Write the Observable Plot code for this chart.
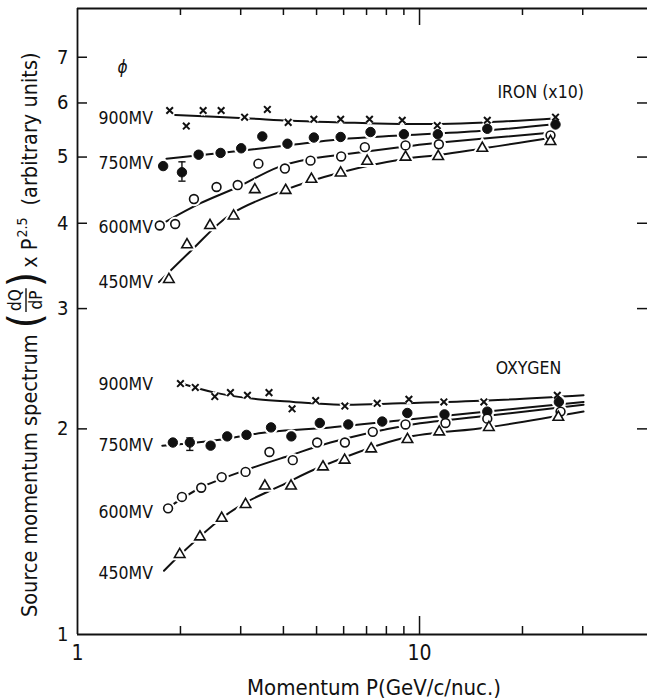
<!DOCTYPE html>
<html><head><meta charset="utf-8">
<script src="https://cdn.jsdelivr.net/npm/d3@7"></script>
<script src="https://cdn.jsdelivr.net/npm/@observablehq/plot@0.6"></script>
<style>
body{margin:0;background:#fff;}
#chart svg text{font-family:"DejaVu Sans Condensed","DejaVu Sans",sans-serif;}
</style></head><body><div id="chart"></div>
<script>
// ---- axes ----
const xDomain = [1, 46.4];
const yDomain = [1, 8.25];
const xMinorTicks = [2,3,4,5,6,7,8,9,20,30];
const xMajorTicks = [10];
const xTickLabels = [1, 10];
const yTicks = [2,3,4,5,6,7];
const yTickLabels = [1,2,3,4,5,6,7];
const xLabel = "Momentum P(GeV/c/nuc.)";
const yLabelParts = ["Source momentum spectrum", "dQ", "dP", "x P", "2.5", "(arbitrary units)"];

// ---- IRON (x10) data points ----
const fe900P = [1.86, 2.08, 2.33, 2.63, 3.08, 3.59, 4.13, 4.91, 5.88, 7.14, 8.90, 11.27, 15.78, 24.98];
const fe900V = [5.85, 5.55, 5.85, 5.85, 5.72, 5.87, 5.62, 5.68, 5.68, 5.68, 5.66, 5.56, 5.66, 5.72];
const fe750P = [1.78, 2.02, 2.26, 2.62, 3.01, 3.47, 4.11, 4.91, 5.88, 7.19, 9.00, 11.31, 15.78, 24.98];
const fe750V = [4.85, 4.75, 5.04, 5.07, 5.15, 5.36, 5.23, 5.34, 5.35, 5.44, 5.40, 5.40, 5.50, 5.58];
const fe600P = [1.74, 1.93, 2.19, 2.55, 2.94, 3.38, 4.04, 4.80, 5.90, 6.92, 9.10, 11.39, 24.15];
const fe600V = [3.97, 3.99, 4.34, 4.52, 4.55, 4.89, 4.81, 4.94, 5.01, 5.17, 5.20, 5.22, 5.38];
const fe450P = [1.85, 2.09, 2.44, 2.86, 3.30, 4.06, 4.83, 5.88, 7.03, 9.10, 11.34, 15.26, 24.15];
const fe450V = [3.31, 3.72, 3.97, 4.10, 4.48, 4.47, 4.64, 4.74, 4.93, 5.00, 5.01, 5.15, 5.27];
const feErrP = [2.02], feErrLo = [4.61], feErrHi = [4.92];

// ---- IRON fitted curves ----
const fe900FitP = [1.93, 3.08, 4.20, 5.88, 8.80, 11.52, 15.60, 25.33];
const fe900FitV = [5.76, 5.70, 5.65, 5.62, 5.59, 5.59, 5.62, 5.70];
const fe750FitP = [1.82, 2.62, 4.08, 5.88, 8.98, 15.70, 25.33];
const fe750FitV = [4.97, 5.07, 5.20, 5.31, 5.38, 5.47, 5.59];
const fe600FitP = [1.81, 2.29, 2.94, 3.85, 4.80, 5.91, 9.10, 11.52, 24.48];
const fe600FitV = [4.02, 4.28, 4.52, 4.83, 4.97, 5.04, 5.18, 5.25, 5.43];
const fe450FitP = [1.73, 2.14, 2.80, 3.92, 5.91, 9.10, 11.52, 24.48];
const fe450FitV = [3.28, 3.64, 4.12, 4.45, 4.75, 4.97, 5.04, 5.34];

// ---- OXYGEN data points ----
const o900P = [2.00, 2.21, 2.52, 2.80, 3.14, 3.63, 4.24, 4.97, 6.05, 7.52, 9.31, 11.78, 15.42, 25.28];
const o900V = [2.33, 2.30, 2.23, 2.26, 2.24, 2.26, 2.14, 2.20, 2.16, 2.18, 2.21, 2.19, 2.19, 2.24];
const o750P = [1.90, 2.13, 2.45, 2.74, 3.12, 3.68, 4.22, 5.11, 6.19, 7.78, 9.21, 11.83, 15.78, 25.55];
const o750V = [1.91, 1.91, 1.89, 1.95, 1.96, 2.01, 1.95, 2.04, 2.03, 2.05, 2.11, 2.10, 2.12, 2.19];
const o600P = [1.84, 2.02, 2.30, 2.64, 3.10, 3.64, 4.26, 5.02, 6.05, 7.30, 9.10, 11.91, 15.78, 25.84];
const o600V = [1.53, 1.59, 1.64, 1.70, 1.73, 1.85, 1.80, 1.91, 1.91, 1.98, 2.03, 2.04, 2.07, 2.12];
const o450P = [1.99, 2.28, 2.64, 3.10, 3.53, 4.21, 5.22, 6.04, 7.22, 9.22, 11.42, 15.95, 25.46];
const o450V = [1.31, 1.39, 1.48, 1.55, 1.65, 1.65, 1.76, 1.80, 1.87, 1.93, 1.98, 2.01, 2.08];
const oErrP = [2.13], oErrLo = [1.86], oErrHi = [1.94];

// ---- OXYGEN fitted curves ----
const o900FitP = [1.96, 2.52, 3.36, 4.28, 5.88, 8.80, 15.81, 30.17];
const o900FitV = [2.34, 2.26, 2.21, 2.19, 2.17, 2.18, 2.20, 2.24];
const o750FitP = [1.77, 2.45, 3.67, 5.49, 8.98, 15.81, 30.17];
const o750FitV = [1.89, 1.92, 1.98, 2.01, 2.06, 2.12, 2.19];
const o600FitP = [1.83, 2.29, 3.10, 4.20, 5.49, 8.98, 15.81, 30.17];
const o600FitV = [1.53, 1.64, 1.74, 1.83, 1.91, 2.02, 2.09, 2.17];
const o450FitP = [1.79, 2.00, 2.64, 3.10, 3.92, 5.14, 8.98, 15.81, 30.17];
const o450FitV = [1.24, 1.31, 1.48, 1.56, 1.65, 1.76, 1.94, 2.01, 2.12];

// ---- annotations ----
const mvLabels = ["900MV", "750MV", "600MV", "450MV"];
const mvLabelP = [1.152, 1.152, 1.152, 1.152];
const feLabelV = [5.69, 4.89, 3.94, 3.28];
const oLabelV = [2.32, 1.89, 1.51, 1.228];
const groupNames = ["IRON (x10)", "OXYGEN"];
const groupP = [16.9, 16.7];
const groupV = [6.22, 2.45];
const phiLabel = ["ϕ"];
const phiP = [1.354], phiV = [6.76];

// ---- helpers ----
const ink = "#111";
const pts = (P, V) => P.map((p, i) => ({p, v: V[i]}));
const capSymbol = {draw(ctx, size) { const w = 3.6; ctx.moveTo(-w, 0); ctx.lineTo(w, 0); }};
const styles = {
  "900MV": {symbol: "times", r: 3.1, fill: "none", stroke: ink, strokeWidth: 2},
  "750MV": {symbol: "circle", r: 4.7, fill: ink, stroke: ink, strokeWidth: 1},
  "600MV": {symbol: "circle", r: 4.4, fill: "white", stroke: ink, strokeWidth: 1.6},
  "450MV": {symbol: "triangle", r: 3.9, fill: "white", stroke: ink, strokeWidth: 1.6}
};
const series = [
  ["900MV", fe900P, fe900V, fe900FitP, fe900FitV],
  ["750MV", fe750P, fe750V, fe750FitP, fe750FitV],
  ["600MV", fe600P, fe600V, fe600FitP, fe600FitV],
  ["450MV", fe450P, fe450V, fe450FitP, fe450FitV],
  ["900MV", o900P, o900V, o900FitP, o900FitV],
  ["750MV", o750P, o750V, o750FitP, o750FitV],
  ["600MV", o600P, o600V, o600FitP, o600FitV],
  ["450MV", o450P, o450V, o450FitP, o450FitV]
];
const errs = [...pts(feErrP, feErrLo).map((d, i) => ({p: d.p, lo: d.v, hi: feErrHi[i]})),
              ...pts(oErrP, oErrLo).map((d, i) => ({p: d.p, lo: d.v, hi: oErrHi[i]}))];

const plotH = 700 - 8 - 66, plotW = 647 - 77;

const marks = [];
for (const [k, P, V, FP, FV] of series) {
  marks.push(Plot.line(pts(FP, FV), {x: "p", y: "v", curve: "catmull-rom", stroke: ink, strokeWidth: 2}));
}
for (const [k, P, V] of series) {
  const s = styles[k];
  marks.push(Plot.dot(pts(P, V), {x: "p", y: "v", symbol: s.symbol, r: s.r, fill: "white", stroke: "white", strokeWidth: s.strokeWidth + 4}));
}
for (const [k, P, V] of series) {
  const s = styles[k];
  marks.push(Plot.dot(pts(P, V), {x: "p", y: "v", ...s}));
}
marks.push(
  Plot.ruleX(errs, {x: "p", y1: "lo", y2: "hi", stroke: ink, strokeWidth: 1.4}),
  Plot.dot(errs, {x: "p", y: "lo", symbol: capSymbol, r: 3, stroke: ink, strokeWidth: 1.4}),
  Plot.dot(errs, {x: "p", y: "hi", symbol: capSymbol, r: 3, stroke: ink, strokeWidth: 1.4})
);
marks.push(
  Plot.ruleX([xDomain[0]], {stroke: ink, strokeWidth: 1.8}),
  Plot.ruleY([yDomain[0], yDomain[1]], {stroke: ink, strokeWidth: 1.8}),
  Plot.tickX(xMinorTicks, {x: d => d, insetTop: plotH - 8, stroke: ink, strokeWidth: 1.5}),
  Plot.tickX(xMinorTicks, {x: d => d, insetBottom: plotH - 7, stroke: ink, strokeWidth: 1.5}),
  Plot.tickX(xMajorTicks, {x: d => d, insetTop: plotH - 18, stroke: ink, strokeWidth: 1.5}),
  Plot.tickX(xMajorTicks, {x: d => d, insetBottom: plotH - 17, stroke: ink, strokeWidth: 1.5}),
  Plot.tickY(yTicks, {y: d => d, insetRight: plotW - 10, stroke: ink, strokeWidth: 1.5}),
  Plot.tickY(yTicks, {y: d => d, insetLeft: plotW - 10, stroke: ink, strokeWidth: 1.5}),
  Plot.axisX({ticks: xTickLabels, tickSize: 0, tickPadding: 11, tickFormat: String, label: null, fontSize: 21, fill: ink}),
  Plot.axisY({ticks: yTickLabels, tickSize: 0, tickPadding: 9, tickFormat: String, label: null, fontSize: 20, fill: ink})
);
marks.push(
  Plot.text(mvLabels, {x: (d, i) => mvLabelP[i], y: (d, i) => feLabelV[i], text: d => d, textAnchor: "start", fontSize: 17.5, fill: ink}),
  Plot.text(mvLabels, {x: (d, i) => mvLabelP[i], y: (d, i) => oLabelV[i], text: d => d, textAnchor: "start", fontSize: 17.5, fill: ink}),
  Plot.text(groupNames, {x: (d, i) => groupP[i], y: (d, i) => groupV[i], text: d => d, textAnchor: "start", fontSize: 17.5, fill: ink}),
  Plot.text(phiLabel, {x: (d, i) => phiP[i], y: (d, i) => phiV[i], text: d => d, fontSize: 17, fontStyle: "italic", fill: ink})
);

const chart = Plot.plot({
  width: 647, height: 700,
  marginLeft: 77, marginRight: 0, marginTop: 8, marginBottom: 66,
  style: {background: "white", color: ink, overflow: "visible"},
  x: {type: "log", domain: xDomain, axis: null},
  y: {type: "log", domain: yDomain, axis: null},
  marks
});
document.getElementById("chart").appendChild(chart);

const svg = d3.select(chart);
svg.append("text").attr("x", 374).attr("y", 695).attr("text-anchor", "middle")
  .attr("font-size", 22).attr("fill", ink).text(xLabel);

const g = svg.append("g").attr("transform", "translate(37,617) rotate(-90)")
  .attr("fill", ink).attr("font-size", 21.5).attr("text-anchor", "start");
let cx = 0;
const t1 = g.append("text").attr("x", cx).attr("y", 0).text(yLabelParts[0]);
cx += t1.node().getComputedTextLength() + 6;
const lp = g.append("text").attr("x", cx).attr("y", 3).attr("font-size", 44).text("(");
cx += lp.node().getComputedTextLength() + 1;
const num = g.append("text").attr("y", -16).attr("font-size", 17).text(yLabelParts[1]);
const den = g.append("text").attr("y", 5).attr("font-size", 17).text(yLabelParts[2]);
const fw = Math.max(num.node().getComputedTextLength(), den.node().getComputedTextLength()) + 2;
num.attr("x", cx + fw / 2).attr("text-anchor", "middle");
den.attr("x", cx + fw / 2).attr("text-anchor", "middle");
g.append("line").attr("x1", cx).attr("x2", cx + fw).attr("y1", -11).attr("y2", -11).attr("stroke", ink).attr("stroke-width", 1.4);
cx += fw + 1;
const rp = g.append("text").attr("x", cx).attr("y", 3).attr("font-size", 44).text(")");
cx += rp.node().getComputedTextLength() + 4;
const t2 = g.append("text").attr("x", cx).attr("y", 0).text(yLabelParts[3]);
cx += t2.node().getComputedTextLength() + 1;
const sup = g.append("text").attr("x", cx).attr("y", -10).attr("font-size", 14).text(yLabelParts[4]);
cx += sup.node().getComputedTextLength() + 12;
g.append("text").attr("x", cx).attr("y", 0).text(yLabelParts[5]);
</script></body></html>
